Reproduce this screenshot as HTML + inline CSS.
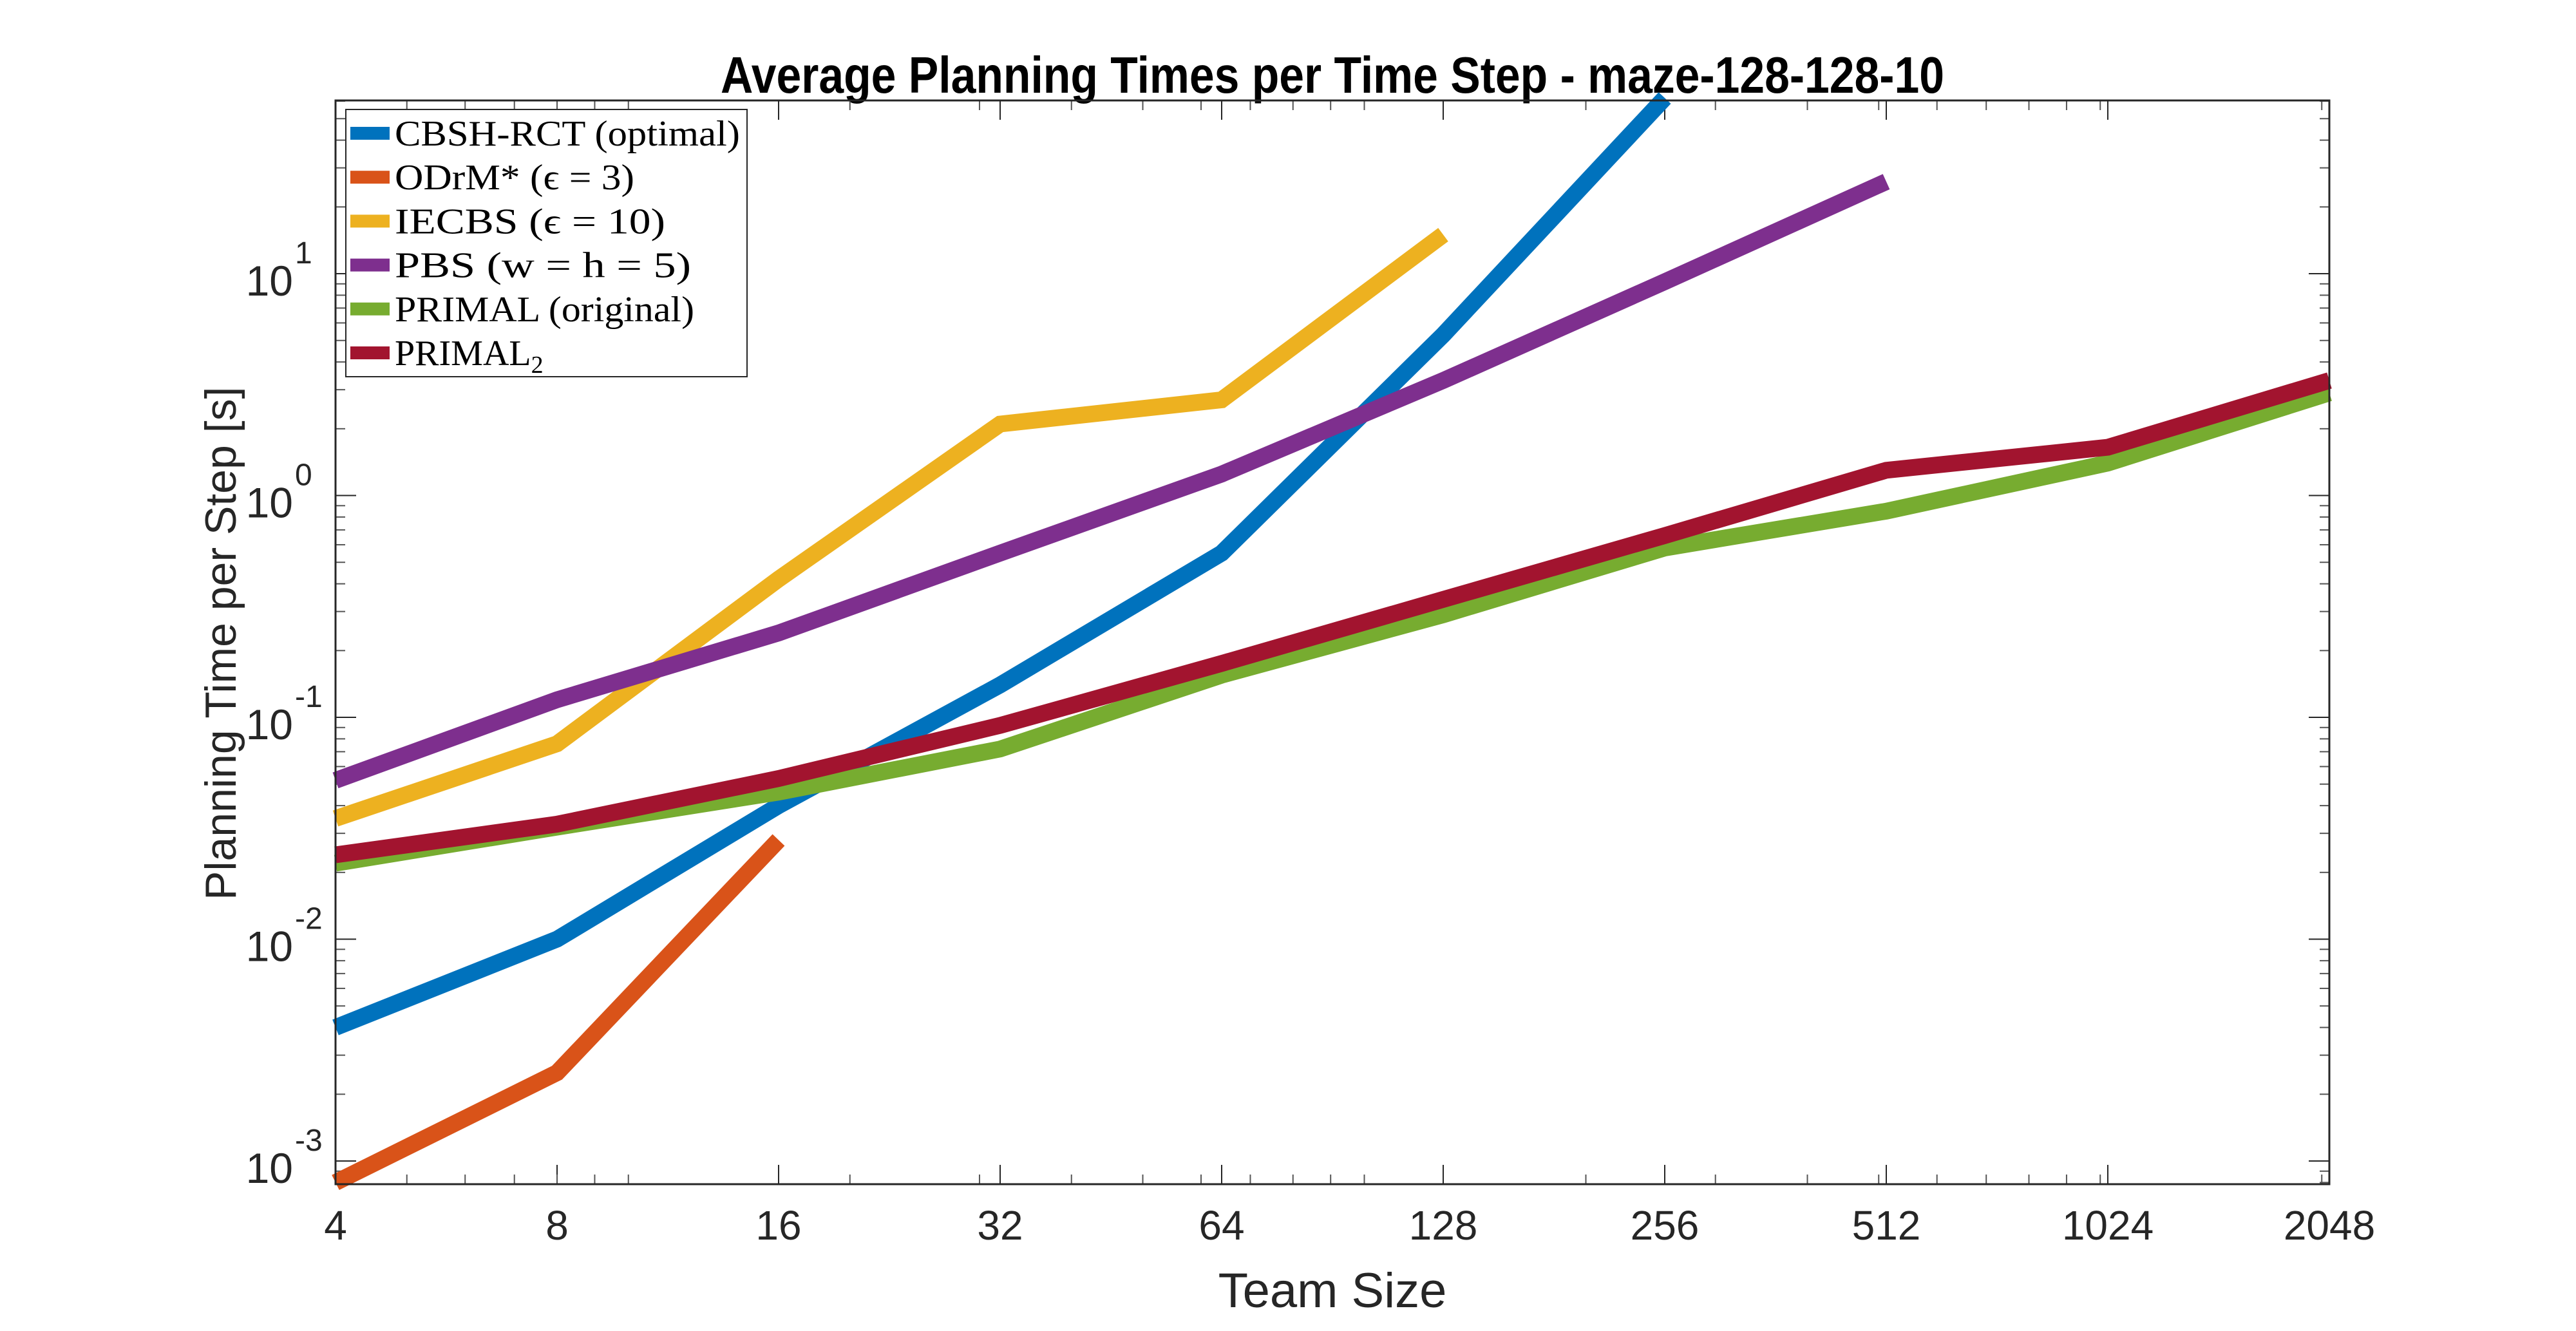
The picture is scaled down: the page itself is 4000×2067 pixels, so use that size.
<!DOCTYPE html>
<html><head><meta charset="utf-8"><style>
html,body{margin:0;padding:0;background:#fff;}
svg{display:block;}
</style></head><body>
<svg id="chart" width="4000" height="2067" viewBox="0 0 4000 2067" xmlns="http://www.w3.org/2000/svg">
<rect width="4000" height="2067" fill="#fff"/>
<text x="2069" y="144" text-anchor="middle" textLength="1900" lengthAdjust="spacingAndGlyphs" font-family="Liberation Sans, sans-serif" font-weight="bold" font-size="80" fill="#000">Average Planning Times per Time Step - maze-128-128-10</text>
<g id="grid"></g>
<g id="series"></g>
<rect x="521" y="156" width="3096" height="1683" fill="none" stroke="#262626" stroke-width="3"/>
<g id="labels"></g>
<text x="2069" y="2030" text-anchor="middle" font-family="Liberation Sans, sans-serif" font-size="76" fill="#262626">Team Size</text>
<text transform="translate(366,1398) rotate(-90)" font-family="Liberation Sans, sans-serif" font-size="68" fill="#262626">Planning Time per Step [s]</text>
<g id="legend"></g>
</svg>
<script>
const teamSizes = [4, 8, 16, 32, 64, 128, 256, 512, 1024, 2048];
const xTickLabels = ["4","8","16","32","64","128","256","512","1024","2048"];
const yTickExps = [-3, -2, -1, 0, 1];
const seriesNames = ["CBSH-RCT (optimal)", "ODrM* (\u03F5 = 3)", "IECBS (\u03F5 = 10)", "PBS (w = h = 5)", "PRIMAL (original)", "PRIMAL2"];
const seriesColors = ["#0072BD", "#D95319", "#EDB120", "#7E2F8E", "#77AC30", "#A2142F"];
const cbshValues = [0.004, 0.01, 0.04, 0.14, 0.55, 5.3, 62];
const odrmValues = [0.0008, 0.0025, 0.028];
const iecbsValues = [0.035, 0.076, 0.42, 2.1, 2.7, 15];
const pbsValues = [0.052, 0.12, 0.24, 0.55, 1.25, 3.3, 9.2, 26];
const primalValues = [0.022, 0.032, 0.046, 0.072, 0.155, 0.29, 0.58, 0.85, 1.4, 2.9];
const primal2Values = [0.024, 0.033, 0.053, 0.092, 0.175, 0.34, 0.66, 1.3, 1.65, 3.3];
const seriesValues = [cbshValues, odrmValues, iecbsValues, pbsValues, primalValues, primal2Values];

const NS = "http://www.w3.org/2000/svg";
const L = 521, R = 3617, T = 156, B = 1839;
const xMin = Math.log2(4), xMax = Math.log2(2048);
const yMin = -3.1045, yMax = 1.781;
function xs(n){ return L + (Math.log2(n) - xMin) / (xMax - xMin) * (R - L); }
function ys(v){ return B - (Math.log10(v) - yMin) / (yMax - yMin) * (B - T); }
function mk(tag, attrs, parent){ const e = document.createElementNS(NS, tag); for (const k in attrs) e.setAttribute(k, attrs[k]); parent.appendChild(e); return e; }

const grid = document.getElementById('grid');
const labels = document.getElementById('labels');
teamSizes.forEach((n, i) => {
  const x = xs(n);
  const t1 = mk('line', {x1:x, x2:x, y1:B, y2:B-30, stroke:'#262626', 'stroke-width':2}, grid);
  
  
  const t2 = mk('line', {x1:x, x2:x, y1:T, y2:T+30, stroke:'#262626', 'stroke-width':2}, grid);
  
  
  const lb = mk('text', {x:x, y:1925, 'text-anchor':'middle', 'font-family':'Liberation Sans, sans-serif', 'font-size':64, fill:'#262626'}, labels);
  lb.textContent = xTickLabels[i];
  
  
});
for (let d = 1; d <= 1000; d *= 10) {
  for (let m = 1; m <= 9; m++) {
    const n = m * d;
    if (n <= 4 || n >= 2048) continue;
    const x = xs(n);
    const a = mk('line', {x1:x, x2:x, y1:B, y2:B-15, stroke:'#555', 'stroke-width':2}, grid);
    
    
    const b = mk('line', {x1:x, x2:x, y1:T, y2:T+15, stroke:'#555', 'stroke-width':2}, grid);
    
    
  }
}
yTickExps.forEach(e => {
  const y = ys(Math.pow(10, e));
  const a = mk('line', {x1:L, x2:L+32, y1:y, y2:y, stroke:'#262626', 'stroke-width':2}, grid);
  
  
  const b = mk('line', {x1:R, x2:R-32, y1:y, y2:y, stroke:'#262626', 'stroke-width':2}, grid);
  
  
  const lb = mk('text', {x:455, y:y+34, 'text-anchor':'end', 'font-family':'Liberation Sans, sans-serif', 'font-size':66, fill:'#262626'}, labels);
  lb.textContent = '10';
  
  
  const sp = mk('text', {x:458, y:y-16, 'font-family':'Liberation Sans, sans-serif', 'font-size':48, fill:'#262626'}, labels);
  sp.textContent = String(e);
  
  
});
for (let e = -4; e <= 1; e++) {
  for (let m = 2; m <= 9; m++) {
    const v = m * Math.pow(10, e);
    const y = ys(v);
    if (y < T || y > B) continue;
    const a = mk('line', {x1:L, x2:L+15, y1:y, y2:y, stroke:'#555', 'stroke-width':2}, grid);
    
    
    const b = mk('line', {x1:R, x2:R-15, y1:y, y2:y, stroke:'#555', 'stroke-width':2}, grid);
    
    
  }
}
const sg = document.getElementById('series');
const lineNames = ['cbsh-rct-line','odrm-line','iecbs-line','pbs-line','primal-line','primal2-line'];
[0,1,2,3,4,5].forEach(s => {
  const vals = seriesValues[s];
  const pts = vals.map((v, i) => xs(teamSizes[i]).toFixed(1) + ',' + ys(v).toFixed(1)).join(' ');
  const pl = mk('polyline', {points:pts, fill:'none', stroke:seriesColors[s], 'stroke-width':26, 'stroke-linejoin':'miter', 'stroke-linecap':'butt'}, sg);
  
  
});
const lg = document.getElementById('legend');
const lbox = mk('rect', {x:537, y:170, width:623, height:415, fill:'#fff', stroke:'#262626', 'stroke-width':2}, lg);


const legendLens = [536, 372, 420, 460, 465, 0];
seriesNames.forEach((name, i) => {
  const cy = 207 + i * 68.2;
  const sw = mk('rect', {x:544, y:cy-10, width:61, height:20, fill:seriesColors[i]}, lg);
  
  
  const t = mk('text', {x:613, y:cy+19, 'font-family':'Liberation Serif, serif', 'font-size':56, fill:'#000'}, lg);
  if (i === 5) {
    t.textContent = 'PRIMAL';
    const sub = document.createElementNS(NS, 'tspan');
    sub.setAttribute('font-size', '38');
    sub.setAttribute('dy', '12');
    sub.textContent = '2';
    t.appendChild(sub);
  } else {
    t.textContent = name;
    t.setAttribute('textLength', legendLens[i]);
    t.setAttribute('lengthAdjust', 'spacingAndGlyphs');
  }
  
  
});
</script>
</body></html>
